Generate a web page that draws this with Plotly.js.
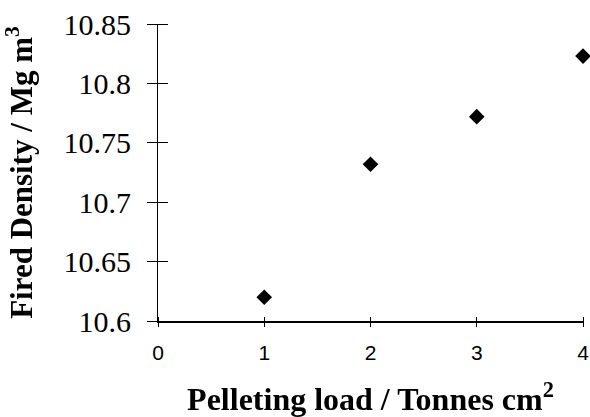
<!DOCTYPE html>
<html>
<head>
<meta charset="utf-8">
<script src="https://cdn.plot.ly/plotly-3.0.1.min.js"></script>
<style>html,body{margin:0;padding:0;background:#fff;}#chart{width:590px;height:417px;}</style>
</head>
<body>
<div id="chart"></div>
<script>
const loads = [1, 2, 3, 4];
const density = [10.62, 10.732, 10.772, 10.823];
const xTicks = [0, 1, 2, 3, 4];
const yTicks = [10.6, 10.65, 10.7, 10.75, 10.8, 10.85];
const yTickText = ['10.6', '10.65', '10.7', '10.75', '10.8', '10.85'];

const serif = '"Liberation Serif", "Times New Roman", serif';
const sans = '"Liberation Sans", Arial, sans-serif';

const traces = [
  {
    x: loads, y: density, type: 'scatter', mode: 'markers',
    xaxis: 'x2', yaxis: 'y2', opacity: 0,
    marker: {symbol: 'diamond', size: 12, color: '#000'},
    hoverinfo: 'skip', showlegend: false
  },
  {
    x: loads, y: density, type: 'scatter', mode: 'markers',
    marker: {symbol: 'diamond', size: 12, color: '#000'},
    cliponaxis: false, hoverinfo: 'skip', showlegend: false
  }
];

const layout = {
  width: 590, height: 417,
  margin: {l: 158, r: 7, t: 24, b: 96},
  paper_bgcolor: '#fff', plot_bgcolor: '#fff',
  font: {family: serif, color: '#000'},
  showlegend: false,
  xaxis: {
    range: [0, 4], tickmode: 'array', tickvals: xTicks, ticktext: xTicks.map(String),
    anchor: 'free', position: 0.0168,
    showgrid: false, zeroline: false, showline: false,
    ticks: 'outside', ticklen: 10, tickcolor: '#000', tickwidth: 1,
    ticklabelstandoff: 8,
    tickfont: {family: sans, size: 21, color: '#000'},
    title: {text: 'Pelleting load / Tonnes cm<sup>2</sup>', standoff: 28,
            font: {family: serif, size: 32, color: '#000', weight: 'bold'}},
    automargin: false
  },
  yaxis: {
    range: [10.6, 10.85], tickmode: 'array', tickvals: yTicks, ticktext: yTickText,
    anchor: 'free', position: 0.0235,
    showgrid: false, zeroline: false, showline: false,
    ticks: 'outside', ticklen: 21, tickcolor: '#000', tickwidth: 1,
    ticklabelstandoff: 10,
    tickfont: {family: serif, size: 30, color: '#000'},
    title: {text: 'Fired Density / Mg m<sup>3</sup>', standoff: 20,
            font: {family: serif, size: 31, color: '#000', weight: 'bold'}},
    automargin: false
  },
  xaxis2: {
    overlaying: 'x', anchor: 'y2', side: 'bottom', range: [0, 4],
    showticklabels: false, showgrid: false, zeroline: false,
    showline: true, linecolor: '#000', linewidth: 1.5, ticks: ''
  },
  yaxis2: {
    overlaying: 'y', anchor: 'x2', side: 'left', range: [10.6, 10.85],
    showticklabels: false, showgrid: false, zeroline: false,
    showline: true, linecolor: '#000', linewidth: 1.5, ticks: ''
  }
};

Plotly.newPlot('chart', traces, layout, {staticPlot: true, displayModeBar: false});
</script>
</body>
</html>
